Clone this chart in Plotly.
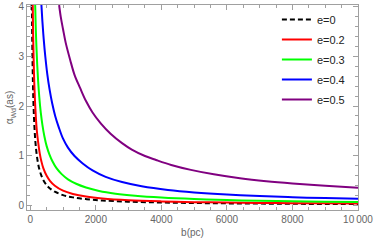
import plotly.graph_objects as go

# Data
b_e0 = [50, 55, 60, 70, 80, 90, 100, 115, 130, 150, 175, 200, 230, 270, 330, 400, 500, 600, 750, 1000, 1300, 1700, 2200, 3000, 4000, 5000, 6000, 7000, 8000, 9000, 10000]
a_e0 = [4.04, 3.64, 3.33, 2.86, 2.5, 2.22, 2.0, 1.74, 1.54, 1.33, 1.14, 1.0, 0.87, 0.74, 0.61, 0.5, 0.4, 0.335, 0.27, 0.2, 0.155, 0.12, 0.092, 0.068, 0.051, 0.041, 0.034, 0.029, 0.025, 0.022, 0.02]

b_e02 = [75, 85, 95, 110, 125, 145, 170, 200, 244, 290, 340, 400, 500, 600, 750, 1000, 1300, 1700, 2200, 3000, 4000, 5000, 6000, 7000, 8000, 9000, 10000]
a_e02 = [4.04, 3.55, 3.18, 2.75, 2.42, 2.08, 1.77, 1.5, 1.25, 1.04, 0.88, 0.74, 0.59, 0.49, 0.39, 0.29, 0.225, 0.172, 0.133, 0.098, 0.074, 0.059, 0.05, 0.043, 0.038, 0.034, 0.031]

b_e03 = [150, 165, 185, 210, 240, 275, 320, 370, 430, 500, 580, 680, 800, 950, 1150, 1400, 1700, 2100, 2600, 3200, 4000, 5000, 6000, 7000, 8000, 9000, 10000]
a_e03 = [4.04, 3.64, 3.24, 2.86, 2.5, 2.18, 1.87, 1.62, 1.39, 1.19, 1.03, 0.88, 0.745, 0.63, 0.52, 0.43, 0.355, 0.285, 0.23, 0.187, 0.15, 0.12, 0.1, 0.086, 0.075, 0.067, 0.06]

b_e04 = [340, 370, 410, 460, 520, 590, 670, 760, 870, 1000, 1150, 1350, 1600, 1900, 2300, 2800, 3400, 4200, 5000, 6000, 7000, 8000, 9000, 10000]
a_e04 = [4.04, 3.71, 3.35, 2.99, 2.64, 2.33, 2.05, 1.8, 1.57, 1.34, 1.16, 0.99, 0.84, 0.7, 0.57, 0.465, 0.38, 0.305, 0.255, 0.212, 0.182, 0.158, 0.14, 0.125]

b_e05 = [880, 930, 1000, 1080, 1218, 1350, 1523, 1700, 1900, 2150, 2450, 2800, 3098, 3500, 3838, 4300, 4900, 5600, 6397, 7200, 8000, 9000, 10000]
a_e05 = [4.04, 3.8, 3.55, 3.28, 2.93, 2.63, 2.36, 2.1, 1.87, 1.65, 1.44, 1.25, 1.12, 0.99, 0.91, 0.81, 0.71, 0.62, 0.54, 0.48, 0.435, 0.39, 0.35]

x_tickvals = [0, 2000, 4000, 6000, 8000, 10000]
x_ticktext = ["0", "2000", "4000", "6000", "8000", "10\u2009000"]
y_tickvals = [0, 1, 2, 3, 4]
y_ticktext = ["0", "1", "2", "3", "4"]

series = [
    ("e=0", b_e0, a_e0, "black", "5px,3px"),
    ("e=0.2", b_e02, a_e02, "#FF0000", "solid"),
    ("e=0.3", b_e03, a_e03, "#00FF00", "solid"),
    ("e=0.4", b_e04, a_e04, "#0000FF", "solid"),
    ("e=0.5", b_e05, a_e05, "#800080", "solid"),
]

FONT = "Liberation Sans, Arial, sans-serif"

fig = go.Figure()
for i, (name, xs, ys, col, dash) in enumerate(series):
    fig.add_trace(go.Scatter(
        x=xs, y=ys, mode="lines", name=name, legendgroup=str(i),
        line=dict(color=col, width=2, dash=dash, shape="spline", smoothing=1.0),
    ))

axis_common = dict(
    showline=True, linecolor="#A0A0A0", linewidth=1, mirror="ticks",
    ticks="inside", ticklen=5, tickcolor="#A0A0A0", tickwidth=1,
    showgrid=False, zeroline=False, automargin=False,
    tickfont=dict(family=FONT, size=10, color="#666666"),
)

fig.update_xaxes(
    range=[-100, 10000], tickvals=x_tickvals, ticktext=x_ticktext,
    minor=dict(dtick=500, tick0=0, ticks="inside", ticklen=3, tickcolor="#A0A0A0"),
    title=dict(text="b(pc)", font=dict(family=FONT, size=10, color="#666666"), standoff=4),
    **axis_common,
)
fig.update_yaxes(
    range=[-0.1, 4.04], tickvals=y_tickvals, ticktext=y_ticktext,
    minor=dict(dtick=0.2, tick0=0, ticks="inside", ticklen=3, tickcolor="#A0A0A0"),
    title=dict(text="α<sub>Wd</sub>(as)", font=dict(family=FONT, size=10, color="#666666"), standoff=2),
    **axis_common,
)

fig.update_layout(
    width=374, height=243,
    margin=dict(l=27, r=16, t=5, b=33),
    plot_bgcolor="white", paper_bgcolor="white",
    showlegend=True,
    legend=dict(
        x=0.755, y=1.0, xanchor="left", yanchor="top",
        bgcolor="rgba(255,255,255,0)", borderwidth=0,
        font=dict(family=FONT, size=11, color="#222222"),
        tracegroupgap=1,
    ),
)

fig.write_html(
    "out.html",
    config={"displayModeBar": False},
    post_script="document.body.style.margin='0';document.body.style.padding='0';document.body.style.overflow='hidden';",
)
